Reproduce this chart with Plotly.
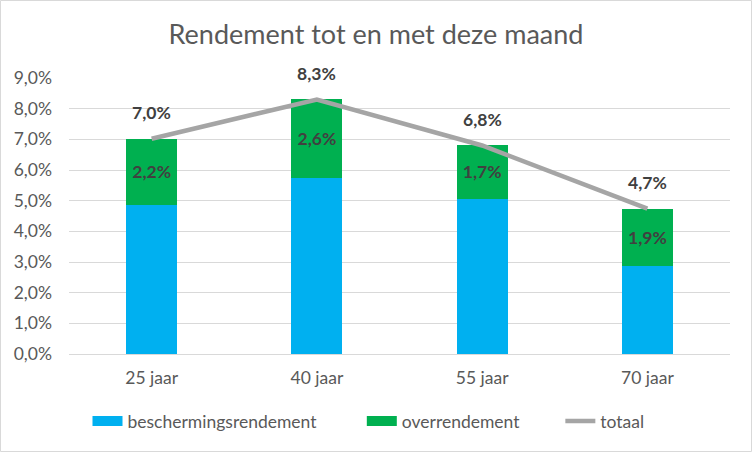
import plotly.graph_objects as go

categories = ["25 jaar", "40 jaar", "55 jaar", "70 jaar"]
bescherming = [4.85, 5.73, 5.07, 2.86]
over = [2.17, 2.57, 1.73, 1.88]
totaal = [round(a + b, 2) for a, b in zip(bescherming, over)]
y_ticks = [0, 1, 2, 3, 4, 5, 6, 7, 8, 9]
y_ticktext = [f"{v:.1f}%".replace(".", ",") for v in y_ticks]
series_names = ["beschermingsrendement", "overrendement", "totaal"]

FONT = "Lato"
W, H = 752, 452
L, R, T, B = 69, 22, 78, 98
BLUE, GREEN, GREY = "#00B0F0", "#00B050", "#A5A5A5"
TXT = "#595959"
PAD = "\u00a0" * 9

fig = go.Figure()
fig.add_trace(go.Bar(
    x=categories, y=bescherming, name=series_names[0],
    marker=dict(color=BLUE, line=dict(width=0)), width=0.31,
    hoverinfo="skip", showlegend=False, legendgroup="b",
))
fig.add_trace(go.Bar(
    x=categories, y=over, name=series_names[1],
    marker=dict(color=GREEN, line=dict(width=0)), width=0.31,
    text=over, texttemplate="%{y:.1f}%", textposition="inside",
    insidetextanchor="middle",
    textfont=dict(family=FONT, size=17.5, color="#404040", weight="bold"),
    hoverinfo="skip", showlegend=False, legendgroup="o",
))
fig.add_trace(go.Scatter(
    x=categories, y=totaal, name=series_names[2], mode="lines",
    line=dict(color=GREY, width=4.5),
    hoverinfo="skip", showlegend=False, legendgroup="t",
))
# legend entries (wide swatches like the original)
for name, col, w, grp, pad in [(series_names[0], BLUE, 10, "b", PAD),
                               (series_names[1], GREEN, 10, "o", "\u00a0" * 8),
                               (series_names[2], GREY, 4.5, "t", "")]:
    fig.add_trace(go.Scatter(x=[None], y=[None], mode="lines", name=name + pad,
                             line=dict(color=col, width=w), legendgroup=grp,
                             hoverinfo="skip"))

for c, t in zip(categories, totaal):
    fig.add_annotation(
        x=c, y=t, text=f"{t:.1f}%".replace(".", ","), showarrow=False,
        yshift=26, yanchor="middle",
        font=dict(family=FONT, size=17.5, color="#404040", weight="bold"),
    )

pw = W - L - R
ph = H - T - B
fig.add_shape(
    type="rect", xref="paper", yref="paper",
    x0=(0.5 - L) / pw, x1=(W - 0.5 - L) / pw,
    y0=-(H - 0.5 - T - ph) / ph, y1=1 + (T - 0.5) / ph,
    line=dict(color="#D9D9D9", width=1), layer="below",
)

fig.update_layout(
    width=W, height=H,
    margin=dict(l=L, r=R, t=T, b=B, autoexpand=False),
    paper_bgcolor="white", plot_bgcolor="white",
    barmode="stack",
    separators=",.",
    font=dict(family=FONT, color=TXT),
    title=dict(text="Rendement tot en met deze maand", x=0.5, xanchor="center",
               y=1 - 35 / H, yanchor="middle",
               font=dict(family=FONT, size=27, color=TXT)),
    xaxis=dict(showgrid=False, showline=False, ticks="", ticklabelstandoff=11,
               tickfont=dict(family=FONT, size=17.5, color=TXT)),
    yaxis=dict(range=[0, 9], tickvals=y_ticks, ticktext=y_ticktext,
               showgrid=True, gridcolor="#D9D9D9", gridwidth=1.3,
               zeroline=True, zerolinecolor="#D9D9D9", zerolinewidth=1.3,
               showline=False, ticks="", ticklabelstandoff=16,
               tickfont=dict(family=FONT, size=17.5, color=TXT)),
    legend=dict(orientation="h", x=0.5 - 31 / pw, xanchor="center",
                y=-(421 - (T + ph)) / ph, yanchor="middle",
                traceorder="normal", itemclick=False, itemdoubleclick=False,
                font=dict(family=FONT, size=17.5, color=TXT),
                itemwidth=30),
    showlegend=True,
)

fig.write_html("out.html", config={"displayModeBar": False},
               post_script="document.body.style.margin='0';")
